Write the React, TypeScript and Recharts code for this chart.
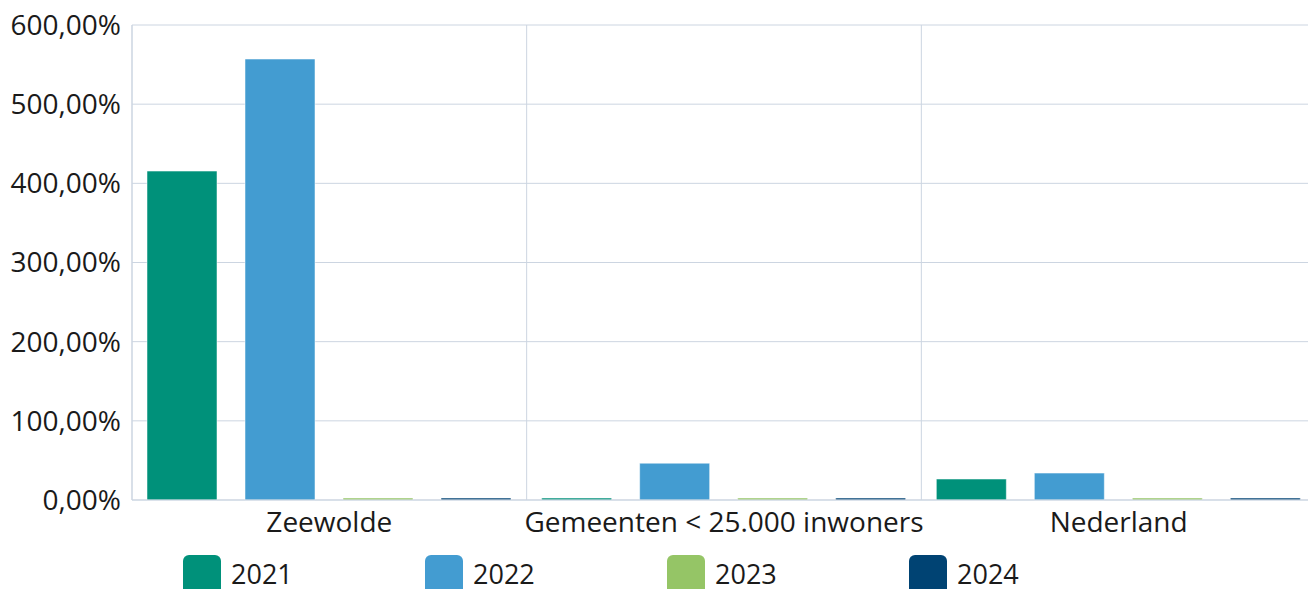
import { BarChart, Bar, XAxis, YAxis, CartesianGrid } from "recharts";

const categories = ["Zeewolde", "Gemeenten < 25.000 inwoners", "Nederland"];
const years = ["2021", "2022", "2023", "2024"];
const values2021 = [415.5, 2.5, 26.5];
const values2022 = [557, 46.5, 34];
const values2023 = [2.5, 2.5, 2.5];
const values2024 = [2.5, 2.5, 2.5];
const yTicks = [0, 100, 200, 300, 400, 500, 600];

const colors = ["#00917a", "#439cd1", "#95c566", "#004373"];
const seriesValues = [values2021, values2022, values2023, values2024];

const data = categories.map((name, i) => {
  const row: Record<string, string | number> = { name };
  years.forEach((y, j) => {
    row[y] = seriesValues[j][i];
  });
  return row;
});

const font = "'Open Sans', 'Noto Sans', sans-serif";
const fmt = (v: number) => v.toFixed(2).replace(".", ",") + "%";

export default function App() {
  return (
    <div style={{ position: "absolute", left: 0, top: 0, width: 1308, height: 589, overflow: "hidden", fontFamily: font }}>
      {/* plot runs past the right edge of the picture, like the reference */}
      <BarChart
        width={1316}
        height={589}
        data={data}
        margin={{ top: 25, right: 0, bottom: 47, left: 0 }}
        barCategoryGap={15}
        barGap={28}
      >
        <CartesianGrid
          stroke="#ccd5e1"
          verticalCoordinatesGenerator={({ offset }: any) =>
            categories.map((_, i) => offset.left + (offset.width * i) / categories.length)
          }
        />
        <XAxis
          dataKey="name"
          height={42}
          tickLine={false}
          axisLine={{ stroke: "#ccd5e1" }}
          tick={{ fontSize: 28, fill: "#1a1a1a", fontFamily: font }}
          tickMargin={6}
          interval={0}
        />
        <YAxis
          width={132}
          domain={[0, 600]}
          ticks={yTicks}
          tickFormatter={fmt}
          tickLine={false}
          axisLine={{ stroke: "#ccd5e1" }}
          tick={{ fontSize: 28, fill: "#1a1a1a", fontFamily: font }}
          tickMargin={5}
        />
        {years.map((y, j) => (
          <Bar key={y} dataKey={y} fill={colors[j]} stroke="#ffffff" strokeOpacity={0.5} isAnimationActive={false} />
        ))}
      </BarChart>
      <div style={{ position: "absolute", left: 183, top: 555, display: "flex" }}>
        {years.map((y, j) => (
          <div key={y} style={{ width: 242, display: "flex", alignItems: "flex-start" }}>
            <div style={{ width: 38, height: 40, borderRadius: 6, background: colors[j], marginRight: 10 }} />
            <span style={{ fontSize: 27, color: "#1a1a1a", lineHeight: "26px", marginTop: 6 }}>{y}</span>
          </div>
        ))}
      </div>
    </div>
  );
}
